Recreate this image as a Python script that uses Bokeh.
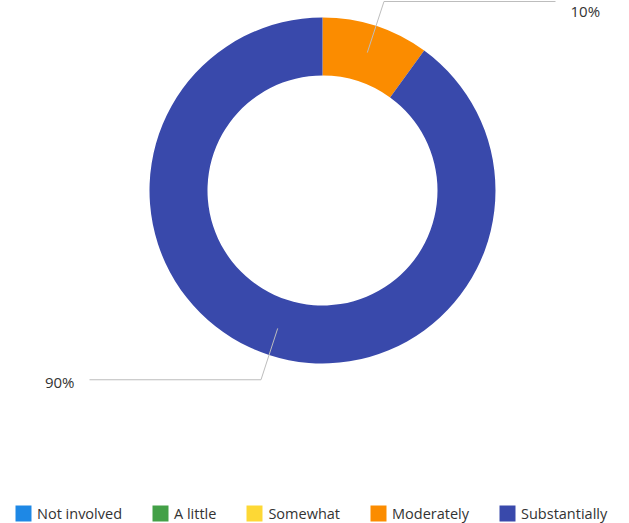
import math
from bokeh.plotting import figure
from bokeh.models import ColumnDataSource, Range1d, Legend, LegendItem
from bokeh.core.properties import value
from bokeh.embed import file_html
from bokeh.resources import INLINE

# ---- data ----
categories = ["Not involved", "A little", "Somewhat", "Moderately", "Substantially"]
values = [0, 0, 0, 10, 90]
colors = ["#1E88E5", "#43A047", "#FDD835", "#FB8C00", "#3949AB"]
labels = ["", "", "", "10%", "90%"]

W, H = 629, 523
p = figure(width=W, height=H, output_backend="svg", toolbar_location=None,
           x_range=Range1d(0, W), y_range=Range1d(0, H), min_border=0)
p.axis.visible = False
p.grid.visible = False
p.outline_line_color = None
p.background_fill_color = "white"
p.border_fill_color = "white"

cx, cy = 322, 333
r_out, r_in = 173, 115
total = float(sum(values))
nan = float("nan")

items = []
cum = 0.0
label_src = dict(x=[], y=[], text=[], align=[])
line_xs, line_ys = [], []
for cat, v, col, lab in zip(categories, values, colors, labels):
    start = math.pi / 2 - 2 * math.pi * cum / total
    end = math.pi / 2 - 2 * math.pi * (cum + v) / total
    if v > 0:
        src = ColumnDataSource(dict(x=[cx], y=[cy], s=[start], e=[end]))
    else:
        src = ColumnDataSource(dict(x=[nan], y=[nan], s=[start], e=[start]))
    r = p.annular_wedge(x="x", y="y", inner_radius=r_in, outer_radius=r_out,
                        start_angle="s", end_angle="e", direction="clock",
                        fill_color=col, line_color=None, source=src)
    items.append(LegendItem(label=cat, renderers=[r]))
    if v > 0 and lab:
        mid = (start + end) / 2
        x0 = cx + 145 * math.cos(mid)
        y0 = cy + 145 * math.sin(mid)
        x1 = cx + 199 * math.cos(mid)
        y1 = min(cy + 199 * math.sin(mid), H - 1)
        side = 1 if math.cos(mid) >= 0 else -1
        x2 = cx + side * 233
        line_xs.append([x0, x1, x2])
        line_ys.append([y0, y1, y1])
        label_src["x"].append(cx + side * 248)
        label_src["y"].append(min(y1 - 2, H - 10))
        label_src["text"].append(lab)
        label_src["align"].append("left" if side > 0 else "right")
    cum += v

p.multi_line(xs=line_xs, ys=line_ys, line_color="#BDBDBD", line_width=1)
p.text(x="x", y="y", text="text", text_align="align", text_baseline="middle",
       text_font=value("Open Sans"), text_font_size="15px", text_color="#333333",
       source=ColumnDataSource(label_src))

legend = Legend(items=items, orientation="horizontal", location=(13, 0),
                glyph_width=20, glyph_height=20, label_standoff=4, spacing=28,
                padding=0, margin=0, border_line_color=None,
                background_fill_alpha=0, label_text_font="Open Sans",
                label_text_font_size="14.5px", label_text_color="#333333",
                label_height=20)
p.add_layout(legend, "center")

open("out.html", "w").write(file_html(p, INLINE))
